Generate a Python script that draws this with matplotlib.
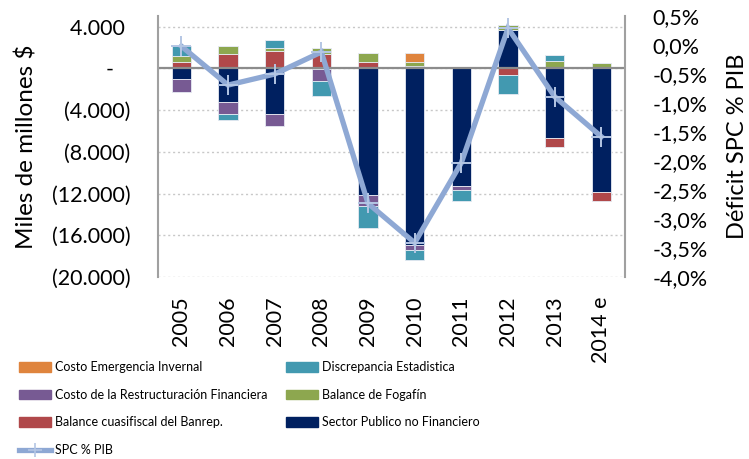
import numpy as np
import matplotlib
matplotlib.use("Agg")
import matplotlib.pyplot as plt
from matplotlib.patches import Patch
from matplotlib.lines import Line2D

plt.rcParams['font.family'] = ['Lato', 'DejaVu Sans']

# Datos (miles de millones $)
years = ['2005', '2006', '2007', '2008', '2009', '2010', '2011', '2012', '2013', '2014 e']
spnf = [-1020, -3190, -4365, -50, -12110, -16950, -11310, 3670, -6690, -11850]
banrep = [574, 1370, 1625, 1340, 574, 190, 0, -605, -860, -890]
fogafin = [637, 800, 320, 574, 890, 380, 0, 510, 670, 480]
restruct = [-1210, -1180, -1150, -1210, -1120, -415, -380, 0, 0, 0]
discrep = [956, -570, 800, -1400, -2070, -1020, -1020, -1850, 605, 0]
emergencia = [0, 0, 0, 0, 0, 860, 0, 0, 0, 0]
spc_pib = [-0.02, -0.69, -0.50, -0.12, -2.73, -3.41, -2.03, 0.29, -0.89, -1.58]

# orden de apilado (desde el eje hacia afuera)
series = [
    ('Sector Publico no Financiero', spnf, '#002060'),
    ('Balance cuasifiscal del Banrep.', banrep, '#B0484A'),
    ('Balance de Fogafín', fogafin, '#8DA74F'),
    ('Costo de la Restructuración Financiera', restruct, '#775A93'),
    ('Discrepancia Estadistica', discrep, '#4299B0'),
    ('Costo Emergencia Invernal', emergencia, '#DF843D'),
]
line_color = '#8EA8D4'


def miles(v, pos=None):
    if abs(v) < 1e-9:
        return '-   '
    s = f"{abs(v):,.0f}".replace(',', '.')
    return f"({s})" if v < 0 else s + ' '


def pct(v, pos=None):
    v = round(v, 2) + 0.0
    return f"{v:.1f}%".replace('.', ',')


fig = plt.figure(figsize=(7.49, 4.59), dpi=100)
ax = fig.add_axes([0.211, 0.3965, 0.623, 0.5685])
x = np.arange(len(years))
w = 0.41

pos_base = np.zeros(len(years))
neg_base = np.zeros(len(years))
handles = {}
for name, vals, col in series:
    v = np.array(vals, dtype=float)
    bottom = np.where(v >= 0, pos_base, neg_base)
    ax.bar(x, v, w, bottom=bottom, color=col, edgecolor='#E6EAF2',
           linewidth=0.6, zorder=2)
    pos_base += np.where(v >= 0, v, 0)
    neg_base += np.where(v < 0, v, 0)
    handles[name] = Patch(facecolor=col, edgecolor=col)

ax.axhline(0, color='#8C8C8C', lw=1.6, zorder=2.5)
ax.set_xlim(-0.5, len(years) - 0.5)
ax.set_ylim(-20000, 5000)
ax.set_yticks(np.arange(-20000, 4001, 4000))
ax.yaxis.set_major_formatter(miles)
ax.grid(axis='y', color='#C8C8C8', ls=(0, (1.5, 2)), lw=1.0, zorder=0)
ax.set_xticks(x)
ax.set_xticklabels(years, rotation=90)
ax.tick_params(axis='both', length=0, labelsize=15.5)
ax.tick_params(axis='y', pad=20)
ax.tick_params(axis='x', pad=14)
for s in ['top', 'bottom', 'right']:
    ax.spines[s].set_visible(False)
ax.spines['left'].set_color('#A0A0A0')
ax.spines['left'].set_linewidth(1.5)
ax.set_ylabel('Miles de millones $', fontsize=17.5, labelpad=10)

ax2 = ax.twinx()
ax2.plot(x, spc_pib, color=line_color, lw=3.8, marker='+', ms=15,
         mew=1.4, mec='#B4C6E4', zorder=5, solid_joinstyle='miter')
ax2.set_ylim(-4.0, 0.5)
ax2.set_yticks(np.arange(-4.0, 0.51, 0.5))
ax2.yaxis.set_major_formatter(pct)
ax2.tick_params(axis='y', length=0, labelsize=15.5, pad=20)
for s in ['top', 'bottom', 'left']:
    ax2.spines[s].set_visible(False)
ax2.spines['right'].set_color('#A0A0A0')
ax2.spines['right'].set_linewidth(1.5)
ax2.set_ylabel('Déficit SPC % PIB', fontsize=17, labelpad=14)

line_handle = Line2D([], [], color=line_color, lw=3.8, marker='+', ms=10,
                     mew=1.2, mec='#B4C6E4')
order = ['Costo Emergencia Invernal', 'Costo de la Restructuración Financiera',
         'Balance cuasifiscal del Banrep.', None,
         'Discrepancia Estadistica', 'Balance de Fogafín',
         'Sector Publico no Financiero']
hs = [handles[n] if n else line_handle for n in order]
labels = [n if n else 'SPC % PIB' for n in order]
fig.legend(hs, labels, loc='upper left', bbox_to_anchor=(0.026, 0.213),
           ncol=2, frameon=False, fontsize=9,
           handlelength=2.55, handleheight=0.8, handletextpad=0.32,
           columnspacing=1.45, labelspacing=1.25, borderaxespad=0, borderpad=0)

fig.savefig('out.png', dpi=100)
